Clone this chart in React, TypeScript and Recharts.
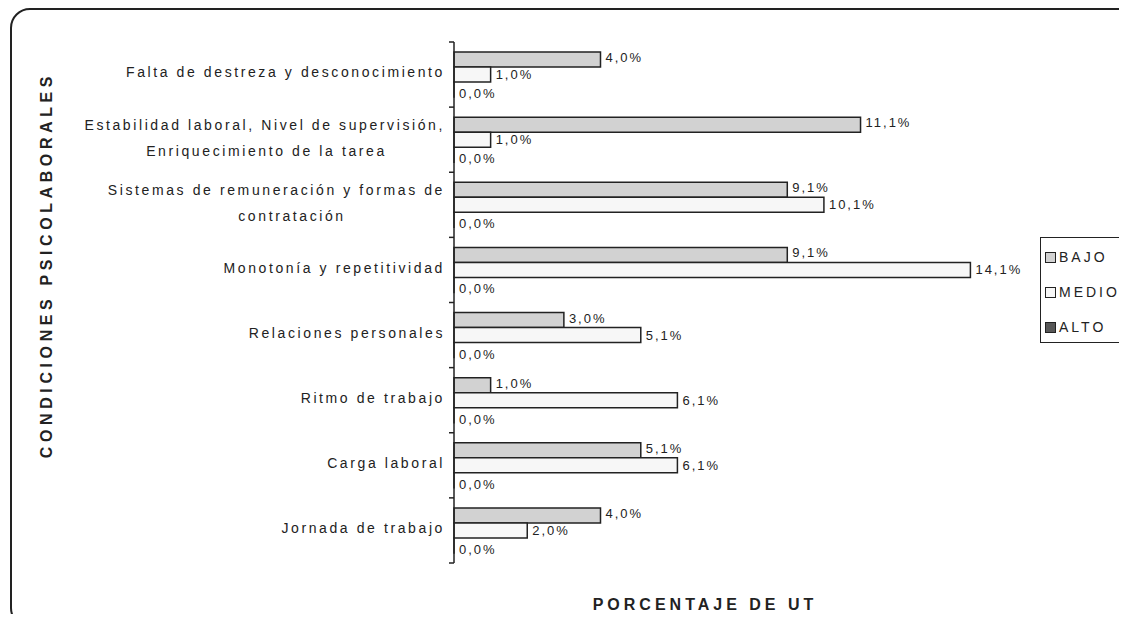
import { BarChart, Bar, XAxis, YAxis, LabelList } from "recharts";

const categories = [
  "Falta de destreza y desconocimiento",
  "Estabilidad laboral, Nivel de supervisión,\nEnriquecimiento de la tarea",
  "Sistemas de remuneración y formas de\ncontratación",
  "Monotonía y repetitividad",
  "Relaciones personales",
  "Ritmo de trabajo",
  "Carga laboral",
  "Jornada de trabajo",
];
const bajo = [4.0, 11.1, 9.1, 9.1, 3.0, 1.0, 5.1, 4.0];
const medio = [1.0, 1.0, 10.1, 14.1, 5.1, 6.1, 6.1, 2.0];
const alto = [0, 0, 0, 0, 0, 0, 0, 0];

const seriesNames = ["BAJO", "MEDIO", "ALTO"];
const seriesColors = ["#d2d2d2", "#f7f7f7", "#575757"];

const data = categories.map((c, i) => ({ cat: c, bajo: bajo[i], medio: medio[i], alto: alto[i] }));

const W = 1111;
const H = 606;
const margin = { top: 34, right: 79, bottom: 51, left: 0 };
const font = "'Liberation Sans', Arial, sans-serif";
const ink = "#222";

const fmt = (v: number) => v.toFixed(1).replace(".", ",") + "%";

function CatTick(props: any) {
  const { x, y, payload, index, tickMargin } = props;
  const axisX = x + (tickMargin ?? 9);
  const half = (H - margin.top - margin.bottom) / categories.length / 2;
  const lines: string[] = String(payload.value).split("\n");
  const lineH = 26;
  const startY = y - ((lines.length - 1) * lineH) / 2 - 2;
  const firstW = lines[0].length * 8.5;
  return (
    <g>
      <line x1={axisX - 5} x2={axisX} y1={y - half} y2={y - half} stroke={ink} strokeWidth={1.5} />
      {index === categories.length - 1 && (
        <line x1={axisX - 5} x2={axisX} y1={y + half} y2={y + half} stroke={ink} strokeWidth={1.5} />
      )}
      {lines.map((l, i) => (
        <text
          key={i}
          x={i === 0 ? x : x - firstW / 2}
          y={startY + i * lineH}
          dy="0.35em"
          textAnchor={i === 0 ? "end" : "middle"}
          fontSize={14}
          letterSpacing={2.6}
          fill={ink}
          fontFamily={font}
        >
          {l}
        </text>
      ))}
    </g>
  );
}

const valueLabel = (dy: number) => (p: any) => {
  const { x, y, width, height, value } = p;
  return (
    <text
      x={x + width + 5}
      y={y + height / 2 + dy}
      dy="0.35em"
      fontSize={13}
      letterSpacing={2}
      fill={ink}
      fontFamily={font}
    >
      {fmt(Number(value))}
    </text>
  );
};

export default function App() {
  return (
    <div
      style={{
        position: "relative",
        width: W + 8,
        height: H + 8,
        marginRight: -8,
        marginBottom: -8,
        overflow: "hidden",
        fontFamily: font,
      }}
    >
      <div
        style={{
          position: "absolute",
          left: 2,
          top: 0,
          width: 1132,
          height: 620,
          border: `2px solid ${ink}`,
          borderRadius: 20,
          boxSizing: "border-box",
        }}
      />
      <BarChart
        width={W}
        height={H}
        data={data}
        layout="vertical"
        margin={margin}
        barSize={15}
        barGap={0}
        style={{ position: "absolute", left: 0, top: 0 }}
      >
        <XAxis type="number" domain={[0, 16]} hide />
        <YAxis
          type="category"
          dataKey="cat"
          width={446}
          tickSize={0}
          tickMargin={9}
          tickLine={false}
          axisLine={{ stroke: ink, strokeWidth: 1.5 }}
          tick={<CatTick />}
          interval={0}
        />
        <Bar dataKey="bajo" fill={seriesColors[0]} stroke={ink} strokeWidth={1.5} isAnimationActive={false}>
          <LabelList dataKey="bajo" content={valueLabel(-2)} />
        </Bar>
        <Bar dataKey="medio" fill={seriesColors[1]} stroke={ink} strokeWidth={1.5} isAnimationActive={false}>
          <LabelList dataKey="medio" content={valueLabel(0)} />
        </Bar>
        <Bar
          dataKey="alto"
          fill={seriesColors[2]}
          stroke={ink}
          strokeWidth={1.5}
          minPointSize={0.01}
          isAnimationActive={false}
        >
          <LabelList dataKey="alto" content={valueLabel(4)} />
        </Bar>
      </BarChart>
      <div
        style={{
          position: "absolute",
          left: 39,
          top: 257,
          transform: "translate(-50%, -50%) rotate(-90deg)",
          whiteSpace: "nowrap",
          fontWeight: "bold",
          fontSize: 16,
          letterSpacing: 4.6,
          color: ink,
        }}
      >
        CONDICIONES PSICOLABORALES
      </div>
      <div
        style={{
          position: "absolute",
          left: 697,
          top: 597,
          transform: "translate(-50%, -50%)",
          whiteSpace: "nowrap",
          fontWeight: "bold",
          fontSize: 16,
          letterSpacing: 4,
          color: ink,
        }}
      >
        PORCENTAJE DE UT
      </div>
      <div
        style={{
          position: "absolute",
          left: 1032,
          top: 229,
          width: 110,
          height: 106,
          border: `1.5px solid ${ink}`,
          boxSizing: "border-box",
          background: "#fff",
        }}
      >
        {seriesNames.map((n, i) => (
          <div
            key={n}
            style={{
              position: "absolute",
              left: 4,
              top: 11 + i * 35,
              display: "flex",
              alignItems: "center",
              fontSize: 14,
              letterSpacing: 3,
              color: ink,
            }}
          >
            <span
              style={{
                display: "inline-block",
                width: 9,
                height: 9,
                background: seriesColors[i],
                border: `1px solid ${ink}`,
                marginRight: 3,
              }}
            />
            {n}
          </div>
        ))}
      </div>
    </div>
  );
}
